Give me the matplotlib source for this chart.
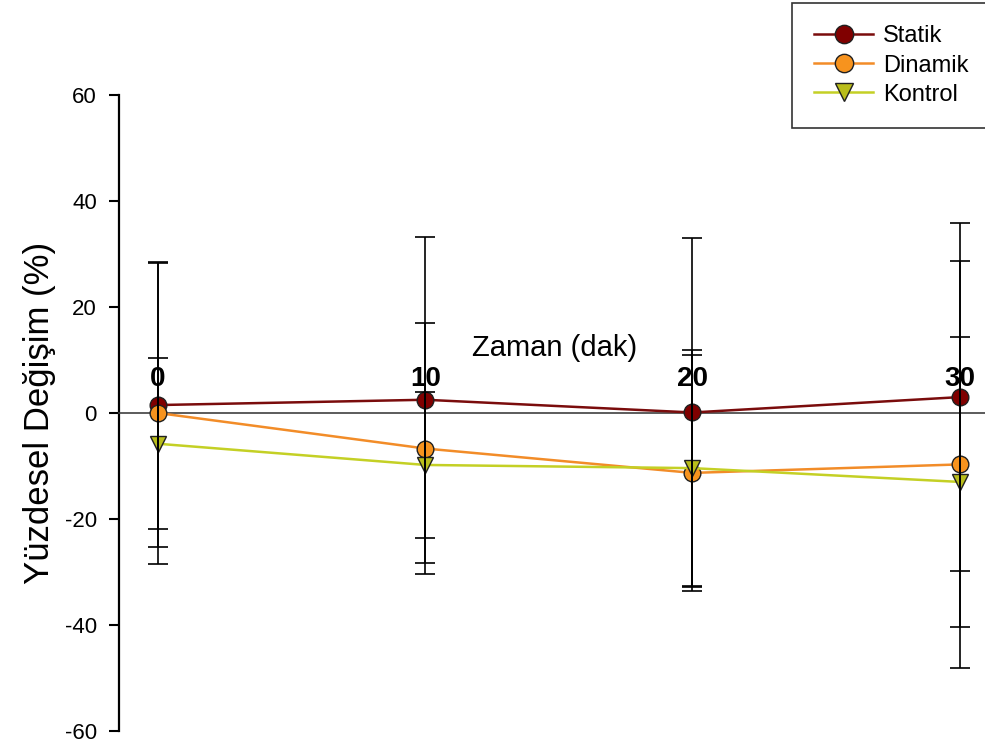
import matplotlib
matplotlib.use("Agg")
import matplotlib.pyplot as plt
import numpy as np

# data
time_min = [0, 10, 20, 30]
statik = [1.5, 2.5, 0.1, 3.0]
statik_sd = [26.8, 30.8, 32.9, 32.9]
dinamik = [0.0, -6.7, -11.3, -9.7]
dinamik_sd = [28.4, 23.6, 22.2, 38.4]
kontrol = [-5.8, -9.8, -10.4, -13.0]
kontrol_sd = [16.1, 13.7, 22.3, 27.3]
y_ticks = [-60, -40, -20, 0, 20, 40, 60]

plt.rcParams['font.family'] = ['Liberation Sans', 'DejaVu Sans']
plt.rcParams['axes.unicode_minus'] = False

fig = plt.figure(figsize=(9.85, 7.48), dpi=100)
ax = fig.add_axes([0.1208, 0.0227, 0.8792, 0.8503])

series = [
    ("Statik", statik, statik_sd, '#7a0c0c', '#800000', 'o'),
    ("Dinamik", dinamik, dinamik_sd, '#f28c28', '#f7931e', 'o'),
    ("Kontrol", kontrol, kontrol_sd, '#c4d025', '#b9bd1b', 'v'),
]

for name, vals, sd, lc, mc, mk in series:
    ax.plot(time_min, vals, color=lc, lw=1.8, marker=mk, markersize=12,
            markerfacecolor=mc, markeredgecolor='#202020', markeredgewidth=1.0,
            label=name, zorder=3)
    ax.errorbar(time_min, vals, yerr=sd, fmt='none', ecolor='black',
                elinewidth=1.2, capsize=7, capthick=1.2, zorder=4)

ax.set_xlim(-1.46, 30.95)
ax.set_ylim(-60, 60)
ax.set_yticks(y_ticks)
ax.tick_params(axis='y', labelsize=16, length=7, width=1.5, direction='out', pad=9)

# x axis drawn as a line through zero, labels above it
ax.spines['top'].set_visible(False)
ax.spines['right'].set_visible(False)
ax.spines['left'].set_linewidth(1.6)
ax.spines['bottom'].set_position(('data', 0))
ax.spines['bottom'].set_color('#404040')
ax.spines['bottom'].set_linewidth(1.2)
ax.set_xticks(time_min)
ax.set_xticklabels([str(t) for t in time_min], fontweight='bold')
ax.tick_params(axis='x', length=0, labelsize=20, pad=-34)

ax.set_xlabel("Zaman (dak)", fontsize=21)
ax.xaxis.set_label_coords(0.503, 0.625)
ax.set_ylabel("Yüzdesel Değişim (%)", fontsize=25, labelpad=6)

leg = fig.legend(loc='upper left', bbox_to_anchor=(0.804, 0.996), fontsize=17,
                 frameon=True, fancybox=False, edgecolor='black',
                 handlelength=2.5, labelspacing=0.3, borderpad=0.95,
                 handletextpad=0.4, markerscale=1.1, borderaxespad=0)
leg.get_frame().set_linewidth(1.2)
# pull the legend contents a little to the left inside the frame
leg._legend_box.align = "left"

fig.savefig("out.png", dpi=100)
